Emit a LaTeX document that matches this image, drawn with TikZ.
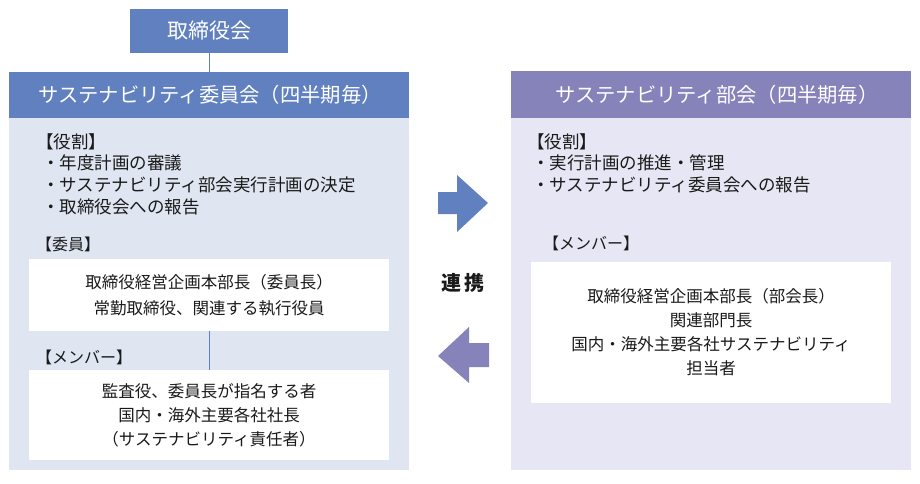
\documentclass[tikz,border=0pt]{standalone}
\usepackage{fontspec}
\setmainfont{Noto Sans CJK JP}
\definecolor{hblue}{HTML}{6080C0}
\definecolor{hpurple}{HTML}{8682BA}
\definecolor{bblue}{HTML}{DFE6F2}
\definecolor{bpurple}{HTML}{E6E6F4}
\definecolor{txt}{HTML}{1A1A1A}
\tikzset{
  rectbox/.style={inner sep=0pt, outer sep=0pt, anchor=north west, draw=none},
  headbox/.style={rectbox, text=white, font=\fontsize{20}{24}\selectfont},
  headtext/.style={inner sep=0pt, text=white, font=\fontsize{20.3}{24}\selectfont},
  whitebox/.style={rectbox, fill=white, text=txt, align=center, minimum width=360pt},
  listline/.style={anchor=west, inner sep=0pt, text=txt, font=\fontsize{17.5}{22}\selectfont},
  conn/.style={draw=hblue, line width=0.8pt},
}
\begin{document}
\begin{tikzpicture}[x=1pt,y=-1pt]
\path[use as bounding box, fill=white] (0,0) rectangle (920,484);

% board
\node[headbox, fill=hblue, minimum width=158pt, minimum height=44pt, font=\fontsize{21}{24}\selectfont] (board) at (130,9) {取締役会};

% left committee
\node[rectbox, fill=bblue, minimum width=400pt, minimum height=352pt] (lbody) at (9,118) {};
\node[headbox, fill=hblue, minimum width=400pt, minimum height=46pt] (lhead) at (9,72) {};
\node[headtext] (lheadtxt) at ([xshift=1pt]lhead.center) {サステナビリティ委員会（四半期毎）};
\draw[conn] (board.south) -- (lhead.north);

\node[listline] (lrole) at (36,142) {【役割】};
\node[listline] (lr1) at (42,163) {・年度計画の審議};
\node[listline] (lr2) at (42,185) {・サステナビリティ部会実行計画の決定};
\node[listline] (lr3) at (42,207) {・取締役会への報告};
\node[listline, font=\fontsize{16}{20}\selectfont] (lmem) at (36,244) {【委員】};

\node[whitebox, minimum height=72pt, font=\fontsize{16.5}{26}\selectfont] (lw1) at (29,259)
  {取締役経営企画本部長（委員長）\\常勤取締役、関連する執行役員};
\node[listline, font=\fontsize{16}{20}\selectfont] (lmem2) at (36,357) {【メンバー】};
\node[whitebox, minimum height=90pt, font=\fontsize{16.5}{24}\selectfont] (lw2) at (29,370)
  {監査役、委員長が指名する者\\国内・海外主要各社社長\\（サステナビリティ責任者）};
\draw[conn] (lw1.south) -- (lw2.north);

% right committee
\node[rectbox, fill=bpurple, minimum width=400pt, minimum height=352pt] (rbody) at (511,118) {};
\node[headbox, fill=hpurple, minimum width=400pt, minimum height=47pt] (rhead) at (511,71) {};
\node[headtext] (rheadtxt) at ([xshift=6pt]rhead.center) {サステナビリティ部会（四半期毎）};

\node[listline] (rrole) at (527,142) {【役割】};
\node[listline] (rr1) at (532,163) {・実行計画の推進・管理};
\node[listline] (rr2) at (532,185) {・サステナビリティ委員会への報告};
\node[listline, font=\fontsize{16}{20}\selectfont] (rmem) at (543,243) {【メンバー】};
\node[whitebox, minimum height=141pt, font=\fontsize{16.5}{24}\selectfont] (rw) at (531,262)
  {取締役経営企画本部長（部会長）\\関連部門長\\国内・海外主要各社サステナビリティ\\担当者};

% link
\node[text=txt, font=\fontsize{20}{24}\selectfont\bfseries, inner sep=0pt] (link) at (463,283) {連\hspace{3pt}携};
\fill[hblue] (438,192) -- (457,192) -- (457,175) -- (488,203) -- (457,232) -- (457,214) -- (438,214) -- cycle;
\fill[hpurple] (489,343) -- (469,343) -- (469,327) -- (438,356) -- (469,383) -- (469,367) -- (489,367) -- cycle;
\end{tikzpicture}
\end{document}
